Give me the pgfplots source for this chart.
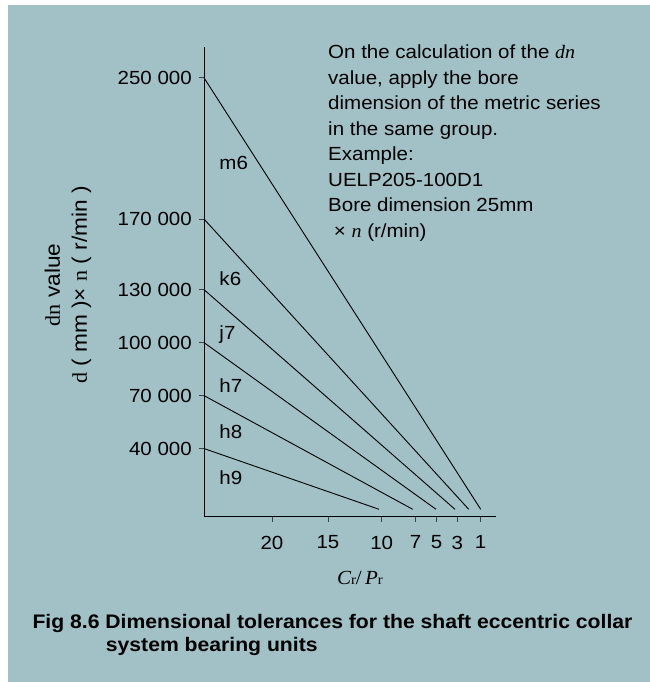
\documentclass[border=0pt]{standalone}
\usepackage{fontspec}
\setmainfont{Liberation Sans}[FakeStretch=1.08]
\newfontfamily\serif{Liberation Serif}[FakeStretch=1.05]
\usepackage{pgfplots}
\pgfplotsset{compat=1.18}
\definecolor{bg}{RGB}{161,193,198}
\newcommand{\txt}{\fontsize{19bp}{25.5bp}\selectfont}
\begin{document}
\begin{tikzpicture}
\path[use as bounding box] (0,0) rectangle (650bp,-682bp);
\fill[bg] (8bp,-5bp) rectangle (650bp,-682bp);
\begin{axis}[
  at={(204bp,-516.7bp)}, anchor=south west,
  scale only axis, width=292bp, height=470bp,
  xmin=0, xmax=292, ymin=1400, ymax=267600,
  axis lines=left,
  axis line style={-, line width=1bp, black},
  tick align=outside,
  major tick length=5bp,
  every tick/.style={black!75, line width=1bp},
  scaled y ticks=false, scaled x ticks=false,
  xtick={68,124,177.7,211.7,232.7,253.3,276.7},
  xticklabels={20,15,10,7,5,3,1},
  ytick={40000,70000,100000,130000,170000,250000},
  yticklabels={40 000,70 000,100 000,130 000,170 000,250 000},
  tick label style={font=\txt},
  yticklabel style={anchor=east, inner sep=0pt, xshift=-7bp},
  xticklabel style={anchor=north, inner sep=0pt, yshift=-14bp},
  xlabel={{\serif\fontsize{20bp}{20bp}\selectfont\itshape C}{\serif\fontsize{14bp}{14bp}\selectfont r}{\serif\fontsize{20bp}{20bp}\selectfont /\,\itshape P}{\serif\fontsize{14bp}{14bp}\selectfont r}},
  xlabel style={at={(axis description cs:0.534,-0.1453)}, anchor=base, inner sep=0pt},
  ylabel={{\serif d}{\serif n} value\\{\serif d} ( mm )× {\serif n} ( r/min )},
  ylabel style={at={(axis description cs:-0.466,0.493)}, anchor=center, align=center, font=\fontsize{21bp}{27bp}\selectfont},
  clip=false,
]
\addplot[black, line width=0.9bp] coordinates {(0,250000) (276.7,5600)};
\addplot[black, line width=0.9bp] coordinates {(0,170000) (264.7,5600)};
\addplot[black, line width=0.9bp] coordinates {(0,130000) (251,5600)};
\addplot[black, line width=0.9bp] coordinates {(0,100000) (232,5600)};
\addplot[black, line width=0.9bp] coordinates {(0,70000) (208.7,5600)};
\addplot[black, line width=0.9bp] coordinates {(0,40000) (175,5600)};
\node[anchor=west, inner sep=0pt, font=\txt] at (axis cs:15.3,201600) {m6};
\node[anchor=west, inner sep=0pt, font=\txt] at (axis cs:15.3,136000) {k6};
\node[anchor=west, inner sep=0pt, font=\txt] at (axis cs:15.3,104300) {j7};
\node[anchor=west, inner sep=0pt, font=\txt] at (axis cs:15.3,75400) {h7};
\node[anchor=west, inner sep=0pt, font=\txt] at (axis cs:15.3,49600) {h8};
\node[anchor=west, inner sep=0pt, font=\txt] at (axis cs:15.3,23500) {h9};
\end{axis}
\begin{scope}[every node/.style={anchor=base west, inner sep=0pt, font=\txt}]
\node at (328bp,-58.3bp) {On the calculation of the {\serif\itshape dn}};
\node at (328bp,-84bp) {value, apply the bore};
\node at (328bp,-109.5bp) {dimension of the metric series};
\node at (328bp,-135bp) {in the same group.};
\node at (328bp,-160.5bp) {Example:};
\node at (328bp,-186bp) {UELP205-100D1};
\node at (328bp,-211.5bp) {Bore dimension 25mm};
\node at (328bp,-237bp) {\ × {\serif\itshape n} (r/min)};
\end{scope}
\node[anchor=base west, inner sep=0pt, font=\fontsize{19.6bp}{23bp}\selectfont\bfseries] at (32.3bp,-628.3bp) {Fig 8.6 Dimensional tolerances for the shaft eccentric collar};
\node[anchor=base west, inner sep=0pt, font=\fontsize{19.6bp}{23bp}\selectfont\bfseries] at (105.7bp,-651.7bp) {system bearing units};
\end{tikzpicture}
\end{document}
